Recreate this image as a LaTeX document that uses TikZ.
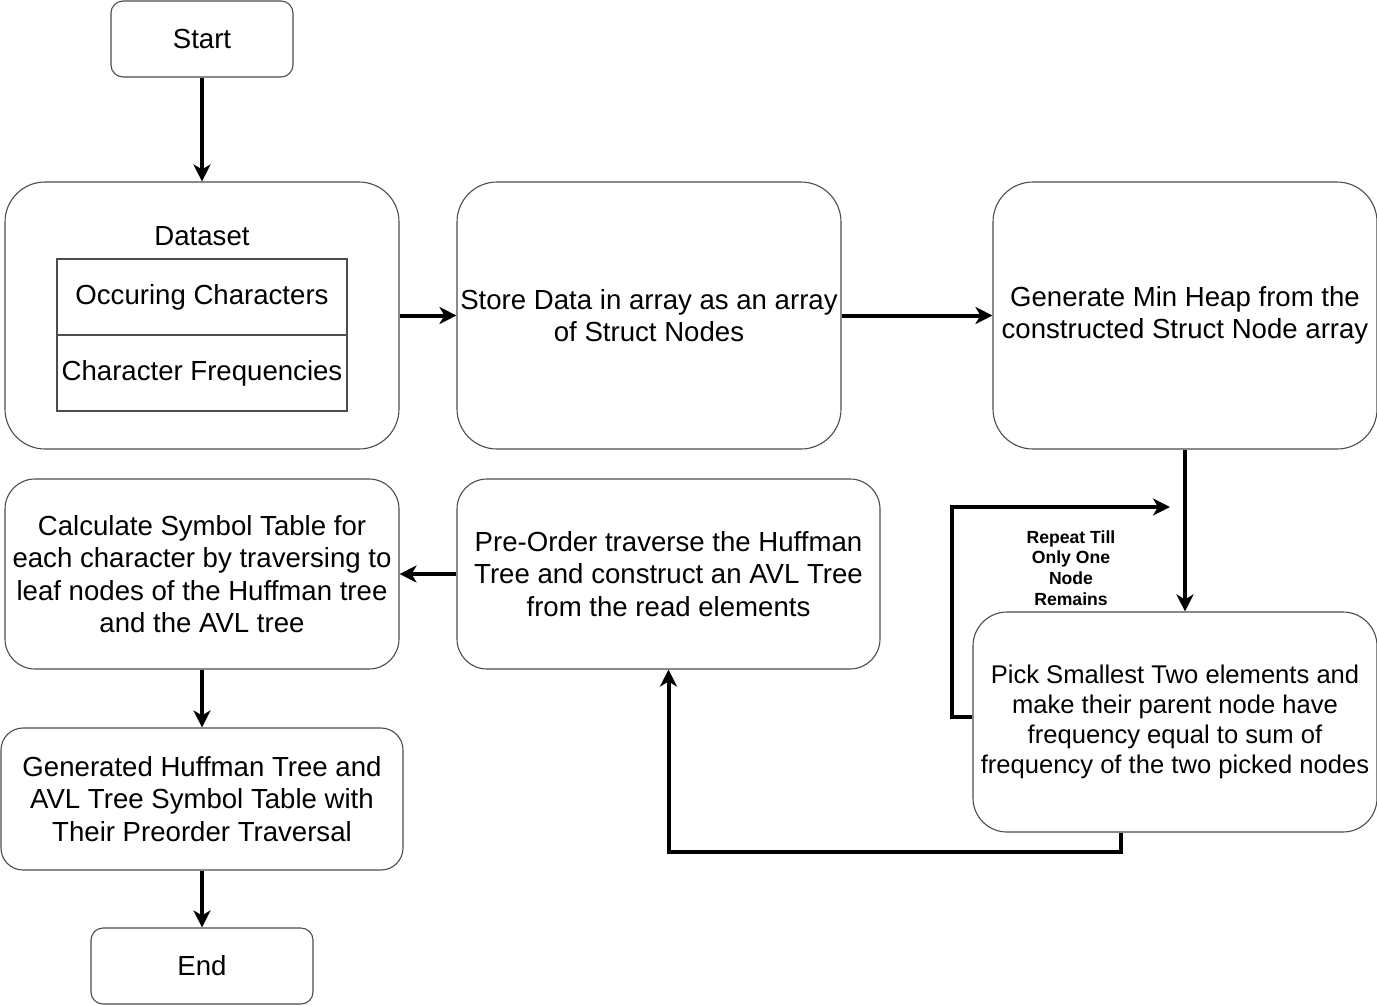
\documentclass[tikz,border=0pt]{standalone}
\usepackage{fontspec}
\setmainfont{Liberation Sans}
\usetikzlibrary{arrows.meta,calc}
\begin{document}
\begin{tikzpicture}[x=1pt,y=-1pt,
  box/.style={draw=black!70, line width=1.1pt, align=center, inner sep=0pt,
    font=\fontsize{27.6}{32.4}\selectfont},
  cell/.style={draw=black!70, line width=1.1pt, align=center, inner sep=0pt,
    minimum width=290pt, minimum height=76pt, font=\fontsize{27.6}{32.4}\selectfont},
  conn/.style={line width=4pt, -{Stealth[length=17pt,width=17pt,inset=5pt]}},
  lbl/.style={align=center, font=\bfseries\fontsize{17.6}{20.8}\selectfont}]
\useasboundingbox (0,0) rectangle (1377,1005);

\node[box, rounded corners=12pt, minimum width=182pt, minimum height=76pt] (start) at (202,39) {Start};
\node[box, rounded corners=40pt, minimum width=394pt, minimum height=267pt] (data) at (202,315.5) {};
\node[font=\fontsize{27.6}{32.4}\selectfont] (dtitle) at (202,236) {Dataset};
\node[cell] (occ) at (202,297) {Occuring Characters};
\node[cell] (freq) at (202,373) {Character Frequencies};
\node[box, rounded corners=40pt, minimum width=384pt, minimum height=267pt] (store) at (649,315.5)
  {Store Data in array as an array\\of Struct Nodes};
\node[box, rounded corners=40pt, minimum width=384pt, minimum height=267pt] (gen) at (1185,315.5)
  {Generate Min Heap from the\\constructed Struct Node array};
\node[box, rounded corners=30pt, minimum width=394pt, minimum height=190pt] (calc) at (202,574)
  {Calculate Symbol Table for\\each character by traversing to\\leaf nodes of the Huffman tree\\and the AVL tree};
\node[box, rounded corners=30pt, minimum width=423pt, minimum height=190pt] (pre) at (668.5,574)
  {Pre-Order traverse the Huffman\\Tree and construct an AVL Tree\\from the read elements};
\node[box, rounded corners=34pt, minimum width=404pt, minimum height=220pt,
  font=\fontsize{25.6}{30}\selectfont] (pick) at (1175,722)
  {Pick Smallest Two elements and\\make their parent node have\\frequency equal to sum of\\frequency of the two picked nodes};
\node[box, rounded corners=22pt, minimum width=402pt, minimum height=142pt] (res) at (202,799)
  {Generated Huffman Tree and\\AVL Tree Symbol Table with\\Their Preorder Traversal};
\node[box, rounded corners=12pt, minimum width=222pt, minimum height=76pt] (end) at (202,966) {End};
\node[lbl] (rep) at (1071,568) {Repeat Till\\Only One\\Node\\Remains};
\coordinate (loopend) at (1170,507);

\draw[conn] (start.south) -- (data.north);
\draw[conn] (data.east) -- (store.west);
\draw[conn] (store.east) -- (gen.west);
\draw[conn] (gen.south) -- (gen.south |- pick.north);
\draw[conn] ($(pick.west)+(0,-5)$) -- ++(-20,0) |- (loopend);
\draw[conn] ($(pick.south)+(-54,0)$) -- ++(0,19) -| (pre.south);
\draw[conn] (pre.west) -- (calc.east);
\draw[conn] (calc.south) -- (res.north);
\draw[conn] (res.south) -- (end.north);
\end{tikzpicture}
\end{document}
